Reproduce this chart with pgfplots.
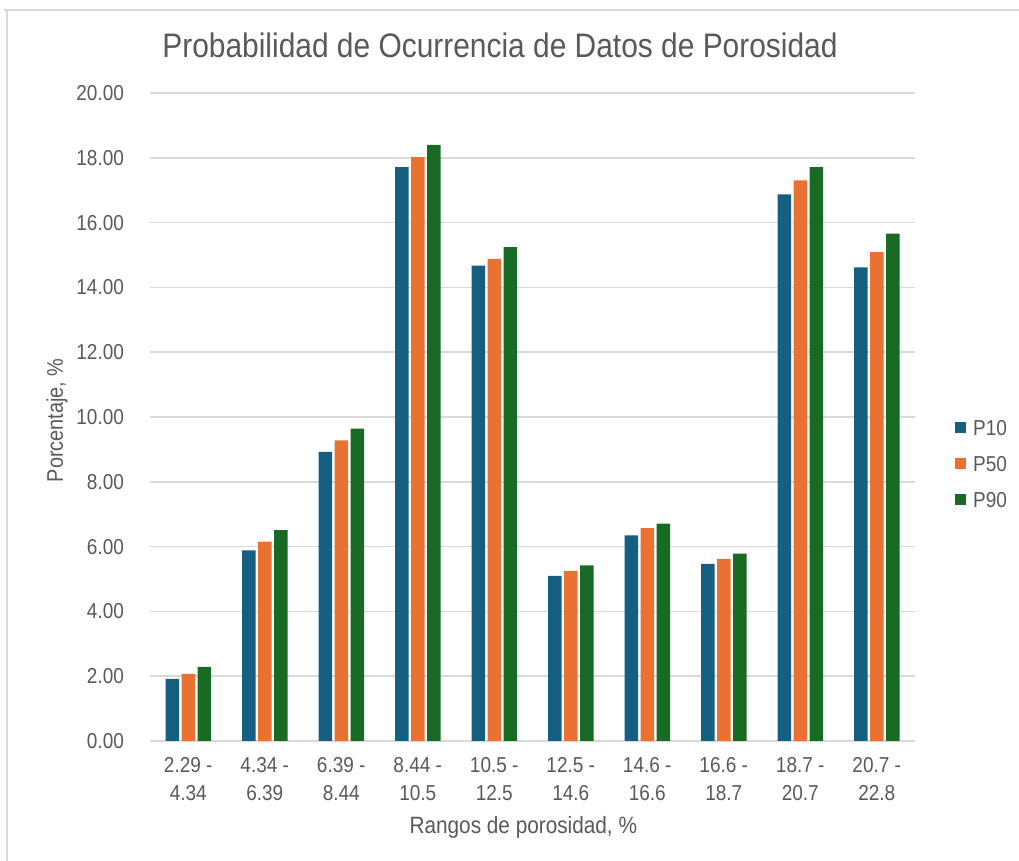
\documentclass[border=0pt]{standalone}
\usepackage{fontspec}
\setmainfont{Liberation Sans}[FakeStretch=0.88]
\usepackage{pgfplots}
\pgfplotsset{compat=1.18}

\definecolor{pten}{HTML}{156082}
\definecolor{pfifty}{HTML}{E97132}
\definecolor{pninety}{HTML}{196B24}
\definecolor{gridgray}{HTML}{D9D9D9}
\definecolor{txtgray}{HTML}{595959}

\begin{document}
\begin{tikzpicture}[x=1pt,y=1pt]
  % image frame: 1019 x 861 px at 0.5pt per px
  \path[use as bounding box] (0,0) rectangle (509.5,430.5);
  \draw[gridgray, line width=0.8pt] (2,425.5) -- (509.5,425.5);
  \draw[gridgray, line width=0.8pt] (3.5,425.5) -- (3.5,0);

  \begin{axis}[
    at={(75pt,60pt)}, anchor=south west,
    scale only axis, width=382.5pt, height=324pt,
    xmin=-0.5, xmax=9.5, ymin=0, ymax=20,
    ybar, bar width=6.75pt,
    xtick={0,...,9},
    xticklabels={{2.29 -\\4.34},{4.34 -\\6.39},{6.39 -\\8.44},{8.44 -\\10.5},{10.5 -\\12.5},
                 {12.5 -\\14.6},{14.6 -\\16.6},{16.6 -\\18.7},{18.7 -\\20.7},{20.7 -\\22.8}},
    ytick={0,2,...,20},
    major tick length=0pt,
    axis line style={draw=none},
    ymajorgrids, grid style={gridgray, line width=0.75pt},
    tick label style={font=\fontsize{10.8}{14}\selectfont, text=txtgray},
    xticklabel style={align=center, yshift=-4.5pt},
    yticklabel style={xshift=-9.5pt},
    yticklabel={\pgfmathprintnumber[fixed, fixed zerofill, precision=2]{\tick}},
    /pgf/number format/assume math mode=true,
    xlabel={Rangos de porosidad, \%},
    ylabel={Porcentaje, \%},
    every axis x label/.style={at={(axis description cs:0.488,-0.134)}, anchor=center,
                               font=\fontsize{11.8}{14}\selectfont, text=txtgray},
    every axis y label/.style={at={(axis description cs:-0.1216,0.495)}, rotate=90, anchor=center,
                               font=\fontsize{11.3}{14}\selectfont, text=txtgray},
    legend style={at={(axis description cs:1.052,0.4275)}, anchor=west, draw=none, fill=none,
                  inner sep=0pt, row sep=8.5pt,
                  font=\fontsize{10.8}{12}\selectfont, text=txtgray,
                  nodes={inner sep=1pt, text height=7.5pt, text depth=0pt}},
    legend cell align=left,
    legend image code/.code={\fill[#1] (0pt,-2.75pt) rectangle (5.5pt,2.75pt); \path (8pt,0pt);},
  ]
    \addplot[fill=pten, draw=none, bar shift=-8pt] coordinates {
      (0,1.92) (1,5.88) (2,8.92) (3,17.71) (4,14.67)
      (5,5.10) (6,6.35) (7,5.47) (8,16.87) (9,14.62)};
    \addplot[fill=pfifty, draw=none, bar shift=0pt] coordinates {
      (0,2.07) (1,6.15) (2,9.28) (3,18.02) (4,14.88)
      (5,5.25) (6,6.57) (7,5.62) (8,17.30) (9,15.09)};
    \addplot[fill=pninety, draw=none, bar shift=8pt] coordinates {
      (0,2.29) (1,6.51) (2,9.64) (3,18.40) (4,15.24)
      (5,5.42) (6,6.71) (7,5.78) (8,17.71) (9,15.66)};
    \legend{P10,P50,P90}
  \end{axis}

  \node[anchor=base, text=txtgray, font=\fontsize{17}{19}\selectfont] at (250,401.5)
    {Probabilidad de Ocurrencia de Datos de Porosidad};
\end{tikzpicture}
\end{document}
